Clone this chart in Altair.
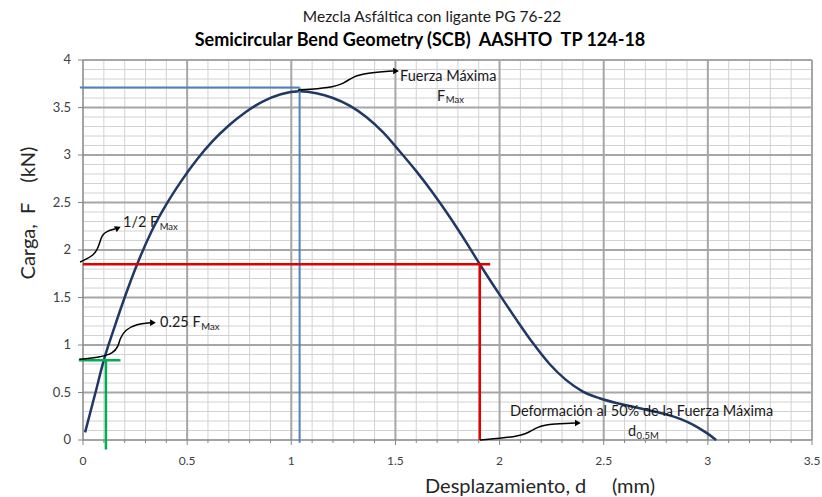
import altair as alt
import pandas as pd

FONT = "Lato"

# ---- load-displacement curve ----
disp = [0.01, 0.06, 0.10, 0.15, 0.20, 0.26, 0.33, 0.40, 0.47, 0.55, 0.62, 0.70, 0.78,
        0.86, 0.95, 1.04, 1.12, 1.20, 1.28, 1.36, 1.44, 1.52, 1.60, 1.68, 1.76, 1.84,
        1.905, 2.00, 2.08, 2.16, 2.24, 2.32, 2.40, 2.48, 2.56, 2.64, 2.72, 2.80, 2.87,
        2.93, 2.99, 3.04]
load = [0.08, 0.50, 0.84, 1.18, 1.50, 1.85, 2.20, 2.48, 2.72, 2.96, 3.14, 3.31, 3.45,
        3.56, 3.64, 3.67, 3.65, 3.60, 3.52, 3.40, 3.24, 3.04, 2.83, 2.60, 2.35, 2.08,
        1.85, 1.53, 1.27, 1.02, 0.80, 0.63, 0.51, 0.44, 0.39, 0.35, 0.31, 0.27, 0.22,
        0.16, 0.08, 0.00]

# ---- guide lines ----
blue_seg = {"x": [-0.015, 1.04], "x2": [1.04, 1.04], "y": [3.71, 3.71], "y2": [3.71, -0.03]}
red_seg = {"x": [0.0, 1.905], "x2": [1.955, 1.905], "y": [1.85, 1.85], "y2": [1.85, 0.0]}
green_seg = {"x": [-0.02, 0.11], "x2": [0.18, 0.11], "y": [0.84, 0.84], "y2": [0.84, -0.1]}

# ---- annotation arrows ----
arrow_id = (["fmax"] * 6 + ["half"] * 6 + ["quarter"] * 8 + ["d05"] * 6)
arrow_x = [1.032, 1.186, 1.258, 1.291, 1.363, 1.488,
           -0.014, 0.058, 0.077, 0.091, 0.115, 0.154,
           -0.018, 0.081, 0.145, 0.169, 0.178, 0.202, 0.258, 0.322,
           1.906, 2.084, 2.146, 2.18, 2.242, 2.362]
arrow_y = [3.684, 3.705, 3.758, 3.821, 3.863, 3.884,
           1.874, 1.947, 2.053, 2.158, 2.200, 2.221,
           0.849, 0.871, 0.913, 0.982, 1.070, 1.160, 1.220, 1.235,
           0.000, 0.032, 0.084, 0.137, 0.168, 0.179]
head_x = [1.503, 0.336, 2.376]
head_y = [3.884, 1.235, 0.179]
head2_x = [0.168]
head2_y = [2.232]

# ---- annotation texts ----
ann_labels = ["Fuerza Máxima", "F", "1/2 F", "0.25 F",
              "Deformación al 50% de la Fuerza Máxima", "d"]
ann_x = [1.522, 1.70, 0.192, 0.370, 2.05, 2.616]
ann_y = [3.82, 3.61, 2.284, 1.23, 0.295, 0.084]
sub_labels = ["Max", "Max", "Max", "0.5M"]
sub_x = [1.742, 0.368, 0.568, 2.658]
sub_y = [3.575, 2.245, 1.19, 0.045]

title_top = "Mezcla Asfáltica con ligante PG 76-22"
title_main = "Semicircular Bend Geometry (SCB)\u00a0\u00a0AASHTO\u00a0\u00a0TP 124-18"
x_title = "Desplazamiento, d\u00a0\u00a0\u00a0\u00a0 (mm)"
y_title = "Carga,\u00a0 F\u00a0\u00a0\u00a0 (kN)"

# ---- axis ticks / labels ----
x_major = [0, 0.5, 1, 1.5, 2, 2.5, 3, 3.5]
x_labels = ["0", "0.5", "1", "1.5", "2", "2.5", "3", "3.5"]
y_major = [0, 0.5, 1, 1.5, 2, 2.5, 3, 3.5, 4]
y_labels = ["0", "0.5", "1", "1.5", "2", "2.5", "3", "3.5", "4"]
x_minor = [round(i * 0.1, 1) for i in range(36) if i % 5 != 0]
y_minor = [round(i * 0.1, 1) for i in range(41) if i % 5 != 0]

W, H = 729, 380
xs = alt.Scale(domain=[0, 3.5], nice=False, zero=False)
ys = alt.Scale(domain=[0, 4], nice=False, zero=False)
AX = "#868686"


def X(f):
    return alt.X(f, scale=xs, axis=None)


def Y(f):
    return alt.Y(f, scale=ys, axis=None)


def vgrid(vals, color, width):
    return alt.Chart(pd.DataFrame({"v": vals})).mark_rule(
        color=color, strokeWidth=width).encode(x=X("v:Q"))


def hgrid(vals, color, width):
    return alt.Chart(pd.DataFrame({"v": vals})).mark_rule(
        color=color, strokeWidth=width).encode(y=Y("v:Q"))


grid_layers = [vgrid(x_minor, "#d2d2d2", 1), hgrid(y_minor, "#d2d2d2", 1),
               vgrid(x_major[1:], "#a6a6a6", 2), hgrid(y_major[1:], "#a6a6a6", 2)]

one = pd.DataFrame({"k": [0]})
y_domain = alt.Chart(one).mark_rule(color=AX, strokeWidth=1.5).encode(
    x=alt.value(0), y=alt.value(0), y2=alt.value(H))
x_domain = alt.Chart(one).mark_rule(color=AX, strokeWidth=1.5).encode(
    x=alt.value(0), x2=alt.value(W), y=alt.value(H))
x_ticks_major = alt.Chart(pd.DataFrame({"v": x_major})).mark_rule(
    color=AX, strokeWidth=1).encode(x=X("v:Q"), y=alt.value(H), y2=alt.value(H + 5))
x_ticks_minor = alt.Chart(pd.DataFrame({"v": x_minor})).mark_rule(
    color=AX, strokeWidth=1).encode(x=X("v:Q"), y=alt.value(H), y2=alt.value(H + 3))
y_ticks_major = alt.Chart(pd.DataFrame({"v": y_major})).mark_rule(
    color=AX, strokeWidth=1).encode(y=Y("v:Q"), x=alt.value(-5), x2=alt.value(0))

x_lab = alt.Chart(pd.DataFrame({"v": x_major, "t": x_labels})).mark_text(
    align="center", baseline="middle", font=FONT, fontSize=12, color="#404040").encode(
    x=X("v:Q"), y=alt.value(H + 21), text="t:N")
y_lab = alt.Chart(pd.DataFrame({"v": y_major, "t": y_labels})).mark_text(
    align="right", baseline="middle", font=FONT, fontSize=13, color="#404040").encode(
    y=Y("v:Q"), x=alt.value(-12), text="t:N")

x_tit = alt.Chart(pd.DataFrame({"t": [x_title]})).mark_text(
    align="center", baseline="middle", font=FONT, fontSize=20, color="#262626").encode(
    x=alt.value(457), y=alt.value(H + 47), text="t:N")
y_tit = alt.Chart(pd.DataFrame({"t": [y_title]})).mark_text(
    align="center", baseline="middle", font=FONT, fontSize=20, color="#262626",
    angle=270).encode(x=alt.value(-54), y=alt.value(153), text="t:N")

curve_df = pd.DataFrame({"d": disp, "F": load})
curve = alt.Chart(curve_df).mark_line(color="#1f3864", strokeWidth=2.5,
                                      interpolate="monotone").encode(
    x=X("d:Q"), y=Y("F:Q"))


def seg_layer(seg, color, width):
    return alt.Chart(pd.DataFrame(seg)).mark_rule(color=color, strokeWidth=width).encode(
        x=X("x:Q"), x2="x2:Q", y=Y("y:Q"), y2="y2:Q")


blue = seg_layer(blue_seg, "#4f81bd", 2)
red = seg_layer(red_seg, "#e00000", 2.5)
green = seg_layer(green_seg, "#00b050", 2.5)

arrow_df = pd.DataFrame({"id": arrow_id, "x": arrow_x, "y": arrow_y,
                         "o": list(range(len(arrow_x)))})
arrows = alt.Chart(arrow_df).mark_line(color="black", strokeWidth=1.5,
                                       interpolate="basis").encode(
    x=X("x:Q"), y=Y("y:Q"), detail="id:N", order="o:Q")
heads = alt.Chart(pd.DataFrame({"x": head_x, "y": head_y})).mark_point(
    shape="triangle-right", filled=True, size=45, color="black", opacity=1).encode(
    x=X("x:Q"), y=Y("y:Q"))
heads2 = alt.Chart(pd.DataFrame({"x": head2_x, "y": head2_y})).mark_point(
    shape="triangle-right", filled=True, size=45, color="black", opacity=1,
    angle=335).encode(x=X("x:Q"), y=Y("y:Q"))

ann = alt.Chart(pd.DataFrame({"t": ann_labels, "x": ann_x, "y": ann_y})).mark_text(
    align="left", baseline="middle", font=FONT, fontSize=14.5, color="#1a1a1a").encode(
    x=X("x:Q"), y=Y("y:Q"), text="t:N")
subs = alt.Chart(pd.DataFrame({"t": sub_labels, "x": sub_x, "y": sub_y})).mark_text(
    align="left", baseline="middle", font=FONT, fontSize=9.5, color="#1a1a1a").encode(
    x=X("x:Q"), y=Y("y:Q"), text="t:N")

t1 = alt.Chart(pd.DataFrame({"t": [title_top]})).mark_text(
    align="center", baseline="middle", font=FONT, fontSize=15.5, color="#1a1a1a").encode(
    x=alt.value(349), y=alt.value(-43), text="t:N")
t2 = alt.Chart(pd.DataFrame({"t": [title_main]})).mark_text(
    align="center", baseline="middle", font=FONT, fontSize=18, fontWeight="bold",
    color="#000000").encode(x=alt.value(337), y=alt.value(-19), text="t:N")

chart = alt.layer(*grid_layers, y_domain, x_domain, x_ticks_major, x_ticks_minor,
                  y_ticks_major, x_lab, y_lab, x_tit, y_tit,
                  curve, blue, red, green, arrows, heads, heads2,
                  ann, subs, t1, t2).properties(
    width=W, height=H,
    autosize=alt.AutoSizeParams(type="none"),
    padding={"left": 83, "top": 60, "right": 10, "bottom": 57},
    background="white",
).configure_view(stroke=None)

chart.save("out.html", embed_options={"renderer": "svg", "actions": False})
